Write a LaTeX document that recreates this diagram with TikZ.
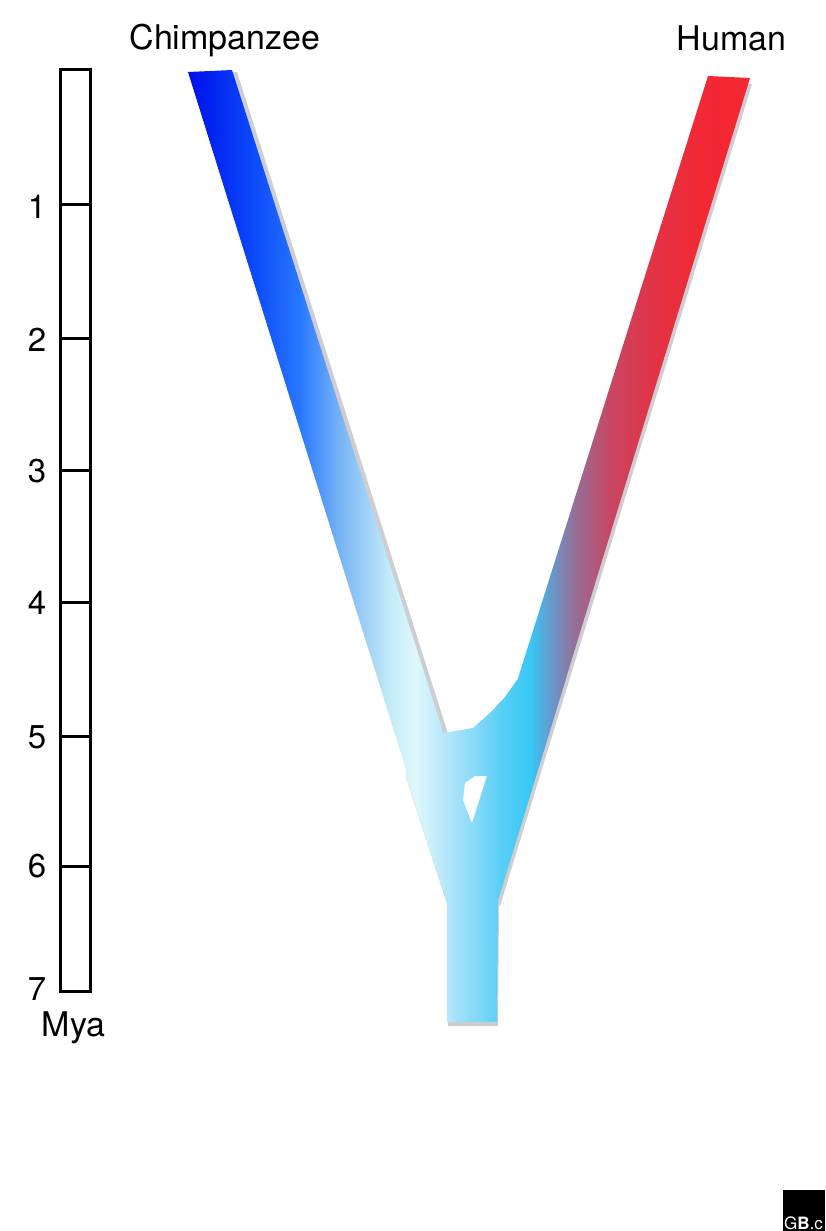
\documentclass[tikz,border=0pt]{standalone}
\usepackage{fontspec}
\setmainfont{TeX Gyre Heros}
\definecolor{g0}{RGB}{0,15,235}
\definecolor{g1}{RGB}{10,70,250}
\definecolor{g2}{RGB}{40,120,255}
\definecolor{g3}{RGB}{120,180,245}
\definecolor{g4}{RGB}{195,235,248}
\definecolor{g5}{RGB}{222,248,250}
\definecolor{g6}{RGB}{175,228,250}
\definecolor{g7}{RGB}{90,207,245}
\definecolor{g8}{RGB}{55,200,245}
\definecolor{g9}{RGB}{100,155,205}
\definecolor{g10}{RGB}{150,110,150}
\definecolor{g11}{RGB}{200,70,100}
\definecolor{g12}{RGB}{225,52,72}
\definecolor{g13}{RGB}{242,40,52}
\definecolor{g14}{RGB}{245,38,50}
\definecolor{shadowgray}{RGB}{205,205,210}
\pgfdeclarehorizontalshading{branch}{100bp}{color(0bp)=(g0); color(25bp)=(g0); color(30.52bp)=(g1); color(34.96bp)=(g2); color(38.52bp)=(g3); color(42.97bp)=(g4); color(45.19bp)=(g5); color(48.31bp)=(g6); color(52.76bp)=(g7); color(55.43bp)=(g8); color(57.21bp)=(g9); color(59.43bp)=(g10); color(62.54bp)=(g11); color(66.10bp)=(g12); color(70.55bp)=(g13); color(75bp)=(g14); color(100bp)=(g14)}
\begin{document}
\begin{tikzpicture}[x=1pt,y=-1pt,
  chimp/.style={insert path={(188,72) -- (232,70) -- (446,741) -- (414,795) -- cycle}},
  human/.style={insert path={(708,76) -- (750,78) -- (498,900) -- (448,900) -- cycle}},
  merged/.style={insert path={(405,773) -- (423,737) -- (443,733) -- (473,728) -- (491,712) -- (505,697) -- (517,680) -- (565.4,680) -- (498,900) -- (497,1022) -- (447,1022) -- (447,903) -- cycle}},
  shadowfill/.style={fill=shadowgray},
  bar/.style={line width=3pt},
  num/.style={font=\fontsize{33}{38}\selectfont, inner sep=0pt, anchor=center},
  lab/.style={font=\fontsize{34}{40}\selectfont, inner sep=0pt, anchor=base}]
\useasboundingbox (0,0) rectangle (825,1231);
% shadows
\path[shadowfill, shift={(5,2)}, chimp];
\path[shadowfill, shift={(2,6)}, human];
\path[shadowfill, shift={(1,4)}, merged];
% coloured branches
\begin{scope}
  \path[clip, chimp];
  \shade[shading=branch] (188,0) rectangle (750,1231);
\end{scope}
\begin{scope}
  \path[clip, human];
  \shade[shading=branch] (188,0) rectangle (750,1231);
\end{scope}
\begin{scope}
  \path[clip, merged];
  \shade[shading=branch] (188,0) rectangle (750,1231);
\end{scope}
% hole
\fill[white] (465,783) -- (475,776) -- (486.8,776) -- (472,823) -- (463,800) -- cycle;
% scale bar
\draw[bar] (60,70) rectangle (90,991);
\foreach \yy in {204,338,470,602,736,866} \draw[bar] (60,\yy) -- (90,\yy);
\node[num] (t1) at (37,207) {1};
\node[num] (t2) at (37,340) {2};
\node[num] (t3) at (37,471) {3};
\node[num] (t4) at (37,603) {4};
\node[num] (t5) at (37,737) {5};
\node[num] (t6) at (37,866) {6};
\node[num] (t7) at (37,989) {7};
\node[lab] (mya) at (73.5,1036) {Mya};
\node[lab] (chimplab) at (225,50) {Chimpanzee};
\node[lab] (humanlab) at (731.5,50.5) {Human};
% logo
\fill[black] (783,1190) rectangle (825,1231);
\node[anchor=base west, text=white, font=\fontsize{17}{20}\selectfont, inner sep=0pt] (logo) at (784,1229) {G\textbf{B}.c};
\end{tikzpicture}
\end{document}
